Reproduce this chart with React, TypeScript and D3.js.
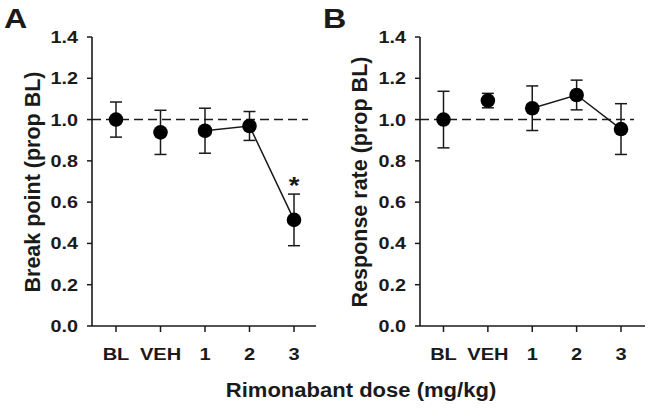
import React from "react";
import * as d3 from "d3";

const categories = ["BL", "VEH", "1", "2", "3"];
const breakPointMean = [1.0, 0.938, 0.946, 0.969, 0.514];
const breakPointErr = [0.085, 0.107, 0.109, 0.07, 0.125];
const responseRateMean = [1.0, 1.092, 1.055, 1.119, 0.954];
const responseRateErr = [0.137, 0.035, 0.108, 0.072, 0.123];
const yTicks = [0, 0.2, 0.4, 0.6, 0.8, 1.0, 1.2, 1.4];
const connected = ["1", "2", "3"];
const significant = [false, false, false, false, true];

const FONT = "'Liberation Sans', Arial, Helvetica, sans-serif";
const INK = "#1a1a1a";

type PanelProps = {
  label: string;
  yTitle: string;
  means: number[];
  errs: number[];
  sig: boolean[];
  axisX: number;
  xRange: [number, number];
  xAxisEnd: number;
  dashEnd: number;
  labelX: number;
  titleX: number;
};

function Panel(p: PanelProps) {
  const y = d3.scaleLinear().domain([0, 1.4]).range([326, 37]);
  const x = d3.scalePoint<string>().domain(categories).range(p.xRange);
  const data = categories.map((c, i) => ({ c, m: p.means[i], e: p.errs[i], s: p.sig[i] }));
  const lineData = data.filter((d) => connected.includes(d.c));
  const line = d3
    .line<{ c: string; m: number }>()
    .x((d) => x(d.c) as number)
    .y((d) => y(d.m));
  const y0 = y(0);
  return (
    <g>
      <text
        transform={`translate(${p.labelX},28) scale(1.15,1)`}
        fontSize={28}
        fontWeight="bold"
        fill={INK}
        fontFamily={FONT}
      >
        {p.label}
      </text>
      {/* dashed reference line */}
      <line x1={p.axisX} x2={p.dashEnd} y1={y(1)} y2={y(1)} stroke={INK} strokeWidth={1.5} strokeDasharray="9,5" />
      {/* y axis */}
      <line x1={p.axisX} x2={p.axisX} y1={y(1.4)} y2={y0} stroke={INK} strokeWidth={1.6} />
      {yTicks.map((t) => (
        <g key={t}>
          <line x1={p.axisX - 5} x2={p.axisX} y1={y(t)} y2={y(t)} stroke={INK} strokeWidth={1.5} />
          <text
            transform={`translate(${p.axisX - 14},${y(t)}) scale(1.2,1)`}
            dy="0.36em"
            textAnchor="end"
            fontSize={16.5}
            fontWeight="bold"
            fill={INK}
            fontFamily={FONT}
          >
            {t.toFixed(1)}
          </text>
        </g>
      ))}
      {/* x axis */}
      <line x1={p.axisX} x2={p.xAxisEnd} y1={y0} y2={y0} stroke={INK} strokeWidth={1.6} />
      {categories.map((c) => (
        <g key={c}>
          <line x1={x(c)} x2={x(c)} y1={y0} y2={y0 + 6} stroke={INK} strokeWidth={1.5} />
          <text
            transform={`translate(${x(c)},359.5) scale(1.18,1)`}
            textAnchor="middle"
            fontSize={17}
            fontWeight="bold"
            fill={INK}
            fontFamily={FONT}
          >
            {c}
          </text>
        </g>
      ))}
      <text
        transform={`translate(${p.titleX},182) rotate(-90)`}
        textAnchor="middle"
        fontSize={21.5}
        fontWeight="bold"
        fill={INK}
        fontFamily={FONT}
      >
        {p.yTitle}
      </text>
      <path d={line(lineData) || ""} fill="none" stroke={INK} strokeWidth={1.5} />
      {data.map((d) => (
        <g key={d.c}>
          <line x1={x(d.c)} x2={x(d.c)} y1={y(d.m + d.e)} y2={y(d.m - d.e)} stroke={INK} strokeWidth={1.5} />
          <line x1={(x(d.c) as number) - 6} x2={(x(d.c) as number) + 6} y1={y(d.m + d.e)} y2={y(d.m + d.e)} stroke={INK} strokeWidth={1.5} />
          <line x1={(x(d.c) as number) - 6} x2={(x(d.c) as number) + 6} y1={y(d.m - d.e)} y2={y(d.m - d.e)} stroke={INK} strokeWidth={1.5} />
          <circle cx={x(d.c)} cy={y(d.m)} r={7.3} fill="#000" />
          {d.s && (
            <text
              transform={`translate(${x(d.c)},${y(d.m + d.e)}) scale(1.15,1)`}
              textAnchor="middle"
              fontSize={24}
              fontWeight="bold"
              fill={INK}
              fontFamily={FONT}
            >
              *
            </text>
          )}
        </g>
      ))}
    </g>
  );
}

export default function App() {
  return (
    <svg
      width={649}
      height={409}
      style={{ position: "absolute", left: 0, top: 0, background: "#fff" }}
    >
      <rect width={649} height={409} fill="#fff" />
      <Panel
        label="A"
        yTitle="Break point (prop BL)"
        means={breakPointMean}
        errs={breakPointErr}
        sig={significant}
        axisX={92}
        xRange={[116, 294]}
        xAxisEnd={316}
        dashEnd={308}
        labelX={4}
        titleX={40}
      />
      <Panel
        label="B"
        yTitle="Response rate (prop BL)"
        means={responseRateMean}
        errs={responseRateErr}
        sig={[false, false, false, false, false]}
        axisX={420}
        xRange={[443.5, 621]}
        xAxisEnd={645}
        dashEnd={634}
        labelX={323}
        titleX={367}
      />
      <text
        transform="translate(361,397) scale(1.13,1)"
        textAnchor="middle"
        fontSize={19.5}
        fontWeight="bold"
        fill={INK}
        fontFamily={FONT}
      >
        Rimonabant dose (mg/kg)
      </text>
    </svg>
  );
}
